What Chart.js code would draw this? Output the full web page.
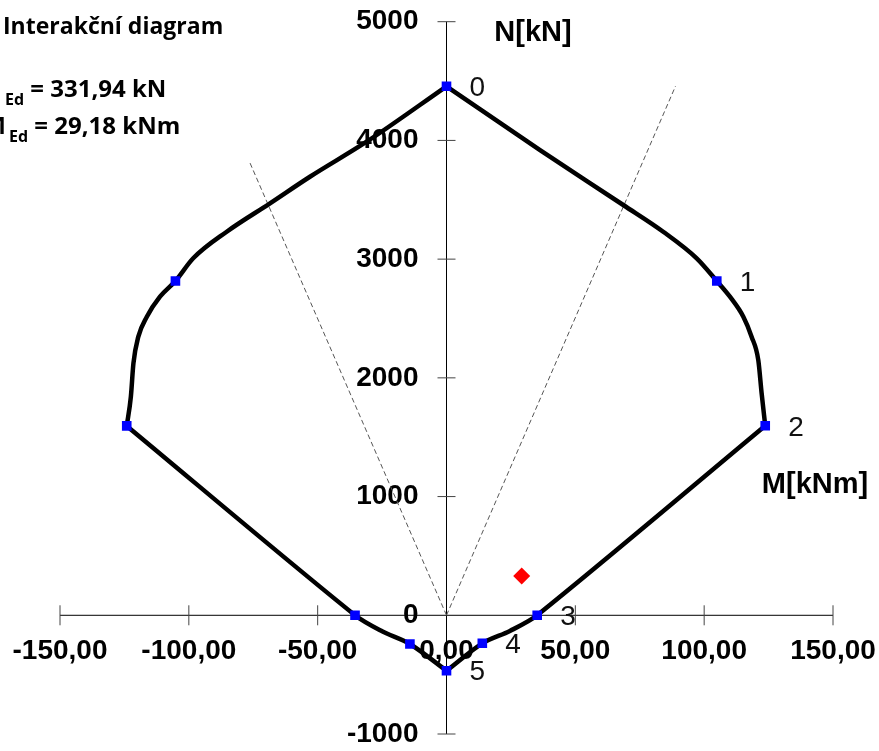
<!DOCTYPE html>
<html>
<head>
<meta charset="utf-8">
<script src="https://cdn.jsdelivr.net/npm/chart.js@4.4.0/dist/chart.umd.min.js"></script>
<style>
  body { margin: 0; background: #fff; }
  #wrap { width: 879px; height: 751px; }
</style>
</head>
<body>
<div id="wrap"><canvas id="myChart"></canvas></div>
<script>
// interaction diagram outline (M in kNm, N in kN)
let rightUpperM = [0, 36.3, 68.6, 84.1, 97.1, 104.9, 110.0, 115.2, 118.4, 121.0, 122.3, 123.7];
let rightUpperN = [4456, 3919, 3456, 3231, 3007, 2816, 2684, 2515, 2347, 2150, 1870, 1596];
let rightLowerM = [123.7, 35.2, 24.6, 13.9, 0];
let rightLowerN = [1596, 0, -132, -236, -467];
let leftLowerM = [0, -14.2, -25.0, -35.5, -124.1];
let leftLowerN = [-467, -242, -135, 0, 1595];
let leftUpperM = [-124.1, -122.5, -121.5, -119.6, -116.3, -111.2, -105.2, -98.3, -85.3, -68.5, -53.0, -31.0, 0];
let leftUpperN = [1595, 1841, 2123, 2347, 2515, 2684, 2816, 3007, 3231, 3470, 3694, 3989, 4456];

// blue marked points
let keyM = [0, 104.9, 123.7, 35.2, 13.9, 0, -14.2, -35.5, -124.1, -105.2];
let keyN = [4456, 2816, 1596, 0, -236, -467, -242, 0, 1595, 2816];
let keyLabels = ['0', '1', '2', '3', '4', '5', '', '', '', ''];

// design load
let MEd = 29.18;
let NEd = 331.94;

// dashed rays from origin
let rayRightM = [0, 88.9];
let rayRightN = [0, 4458];
let rayLeftM = [0, -76.3];
let rayLeftN = [0, 3812];

// axes
let xTicks = [-150, -100, -50, 0, 50, 100, 150];
let xTickLabels = ['-150,00', '-100,00', '-50,00', '0,00', '50,00', '100,00', '150,00'];
let yTicks = [-1000, 0, 1000, 2000, 3000, 4000, 5000];
let yTickLabels = ['-1000', '0', '1000', '2000', '3000', '4000', '5000'];

const AX = '"Liberation Sans", Arial, sans-serif';
const TXT = '"Open Sans", sans-serif';

function toXY(ms, ns) {
  return ms.map((m, i) => ({ x: m, y: ns[i] }));
}

function outline(ms, ns, smooth) {
  let ds = {
    data: toXY(ms, ns),
    showLine: true,
    borderColor: '#000',
    borderWidth: 4.5,
    pointRadius: 0,
    tension: 0.3,
    fill: false
  };
  if (smooth) ds.cubicInterpolationMode = 'monotone';
  return ds;
}

function ray(ms, ns) {
  return {
    data: toXY(ms, ns),
    showLine: true,
    borderColor: '#555',
    borderWidth: 1,
    borderDash: [5, 3],
    pointRadius: 0
  };
}

function subText(ctx, main, sub, rest, right, base) {
  ctx.textAlign = 'left';
  ctx.textBaseline = 'alphabetic';
  ctx.font = 'bold 24px ' + TXT;
  ctx.fillText(main, right - ctx.measureText(main).width, base);
  ctx.font = 'bold 16px ' + TXT;
  ctx.fillText(sub, right + 3, base + 8);
  let ws = ctx.measureText(sub).width;
  ctx.font = 'bold 24px ' + TXT;
  ctx.fillText(rest, right + 3 + ws, base);
}

const axesPlugin = {
  id: 'axesPlugin',
  beforeDatasetsDraw(chart) {
    const ctx = chart.ctx;
    const xs = chart.scales.x;
    const ys = chart.scales.y;
    const x0 = xs.getPixelForValue(0);
    const y0 = ys.getPixelForValue(0);
    ctx.save();
    ctx.strokeStyle = '#000';
    ctx.lineWidth = 1;
    ctx.beginPath();
    ctx.moveTo(xs.getPixelForValue(xTicks[0]), y0);
    ctx.lineTo(xs.getPixelForValue(xTicks[xTicks.length - 1]), y0);
    ctx.moveTo(x0, ys.getPixelForValue(yTicks[0]));
    ctx.lineTo(x0, ys.getPixelForValue(yTicks[yTicks.length - 1]));
    ctx.stroke();

    ctx.strokeStyle = '#444';
    ctx.beginPath();
    xTicks.forEach(v => {
      if (v === 0) return;
      const px = xs.getPixelForValue(v);
      ctx.moveTo(px, y0 - 10);
      ctx.lineTo(px, y0 + 10);
    });
    yTicks.forEach(v => {
      if (v === 0) return;
      const py = ys.getPixelForValue(v);
      ctx.moveTo(x0 - 9, py);
      ctx.lineTo(x0 + 9, py);
    });
    ctx.stroke();

    ctx.fillStyle = '#000';
    ctx.font = 'bold 28px ' + AX;
    ctx.textBaseline = 'middle';
    ctx.textAlign = 'center';
    xTicks.forEach((v, i) => {
      ctx.fillText(xTickLabels[i], xs.getPixelForValue(v), y0 + 36);
    });
    ctx.textAlign = 'right';
    yTicks.forEach((v, i) => {
      ctx.fillText(yTickLabels[i], x0 - 28, ys.getPixelForValue(v));
    });

    ctx.font = 'bold 29px ' + AX;
    ctx.textAlign = 'center';
    ctx.fillText('N[kN]', 533, 33);
    ctx.fillText('M[kNm]', 815, 485);

    ctx.font = 'bold 23px ' + TXT;
    ctx.textAlign = 'left';
    ctx.textBaseline = 'alphabetic';
    ctx.fillText('Interakční diagram', 3, 34);
    subText(ctx, 'N', 'Ed', ' = 331,94 kN', 2, 97);
    subText(ctx, 'M', 'Ed', ' = 29,18 kNm', 6, 134);
    ctx.restore();
  },
  afterDatasetsDraw(chart) {
    const ctx = chart.ctx;
    const xs = chart.scales.x;
    const ys = chart.scales.y;
    ctx.save();
    ctx.fillStyle = '#111';
    ctx.font = '28px ' + AX;
    ctx.textAlign = 'left';
    ctx.textBaseline = 'middle';
    keyLabels.forEach((t, i) => {
      if (!t) return;
      ctx.fillText(t, xs.getPixelForValue(keyM[i]) + 23, ys.getPixelForValue(keyN[i]) + 2);
    });
    ctx.restore();
  }
};

let ctx = document.getElementById('myChart').getContext('2d');

let myChart = new Chart(ctx, {
  type: 'scatter',
  data: {
    datasets: [
      {
        data: [{ x: MEd, y: NEd }],
        pointStyle: 'rectRot',
        pointRadius: 8.5,
        backgroundColor: '#ff0000',
        borderColor: '#ff0000',
        borderWidth: 0
      },
      {
        data: toXY(keyM, keyN),
        pointStyle: 'rect',
        pointRadius: 6.8,
        backgroundColor: '#0000ff',
        borderColor: '#0000ff',
        borderWidth: 0
      },
      outline(rightUpperM, rightUpperN, true),
      outline(rightLowerM, rightLowerN, false),
      outline(leftLowerM, leftLowerN, false),
      outline(leftUpperM, leftUpperN, true),
      ray(rayRightM, rayRightN),
      ray(rayLeftM, rayLeftN)
    ]
  },
  options: {
    responsive: true,
    maintainAspectRatio: false,
    animation: false,
    layout: {
      padding: { left: 60, right: 46, top: 21.7, bottom: 17 }
    },
    plugins: {
      legend: { display: false },
      tooltip: { enabled: false }
    },
    scales: {
      x: { type: 'linear', display: false, min: -150, max: 150 },
      y: { type: 'linear', display: false, min: -1000, max: 5000 }
    }
  },
  plugins: [axesPlugin]
});
</script>
</body>
</html>
